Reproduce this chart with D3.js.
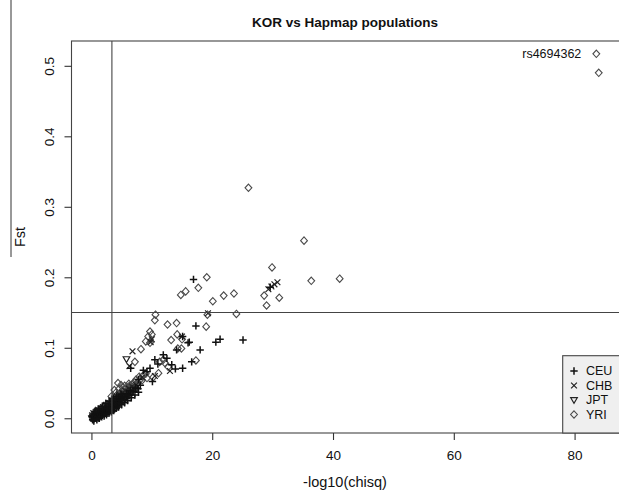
<!DOCTYPE html>
<html>
<head>
<meta charset="utf-8">
<script src="https://cdn.jsdelivr.net/npm/d3@7"></script>
<style>
  html, body { margin: 0; padding: 0; background: #fff; }
  svg { display: block; font-family: "Liberation Sans", Arial, sans-serif; }
</style>
</head>
<body>
<svg id="chart" width="619" height="497"></svg>
<script>
// ---- data ----
const title = "KOR vs Hapmap populations";
const xLabel = "-log10(chisq)";
const yLabel = "Fst";
const xTicks = [0, 20, 40, 60, 80];
const yTicks = [0.0, 0.1, 0.2, 0.3, 0.4, 0.5];
const legendLabels = ["CEU", "CHB", "JPT", "YRI"];
const xThreshold = 3.39;
const yThreshold = 0.15;
const labelledPoint = { name: "rs4694362", x: 83.6, y: 0.517 };

const ceu = [
  [0.1,0.002],[0.3,0.004],[0.5,0.001],[0.7,0.006],[0.9,0.005],[1.1,0.008],[1.3,0.006],[1.5,0.010],
  [1.7,0.009],[1.9,0.012],[2.1,0.011],[2.3,0.014],[2.5,0.013],[2.8,0.017],[3.0,0.016],[3.3,0.020],
  [3.6,0.019],[3.9,0.024],[4.2,0.023],[4.5,0.028],[4.8,0.027],[5.1,0.031],[5.4,0.030],[5.8,0.035],
  [6.1,0.034],[6.5,0.039],[6.9,0.038],[7.3,0.043],[7.7,0.042],[8.1,0.047],
  [0.2,-0.002],[0.6,0.000],[1.0,0.002],[1.4,0.003],[1.8,0.005],[2.2,0.007],[2.6,0.009],[3.0,0.011],
  [3.4,0.014],[3.8,0.016],[4.2,0.019],[4.6,0.022],[5.0,0.025],[5.4,0.027],[5.8,0.030],[6.2,0.032],
  [0.4,-0.004],[0.9,-0.002],[1.3,0.000],[1.7,0.002],[2.1,0.003],[2.5,0.005],[2.9,0.007],[3.3,0.009],
  [3.7,0.011],[4.1,0.014],[4.5,0.016],[5.0,0.019],[5.5,0.022],[6.0,0.025],[6.6,0.029],[7.2,0.033],
  [7.8,0.037],
  [0.6,0.010],[1.2,0.013],[1.8,0.017],[2.4,0.021],[3.0,0.024],[3.6,0.028],[4.2,0.031],[4.9,0.034],
  [16.9,0.197],[17.3,0.131],[15.1,0.116],[16.2,0.108],[20.6,0.108],[21.3,0.112],[25.1,0.111],
  [18.0,0.097],[14.1,0.097],[16.0,0.107],[11.9,0.090],[10.5,0.083],[13.3,0.076],[15.1,0.071],
  [16.6,0.080],[6.5,0.071],[8.6,0.068],[9.7,0.071],[10.1,0.052],[12.5,0.085],[29.6,0.186],
  [11.0,0.077],[9.2,0.066],[13.9,0.070],[7.8,0.055]
];
const chb = [
  [0.2,0.000],[0.4,0.003],[0.6,0.005],[0.8,0.003],[1.0,0.007],[1.2,0.004],[1.4,0.008],[1.6,0.007],
  [1.8,0.010],[2.0,0.009],[2.2,0.012],[2.4,0.011],[2.7,0.015],[2.9,0.013],[3.2,0.018],[3.5,0.017],
  [3.8,0.021],[4.1,0.020],[4.4,0.025],[4.7,0.024],[5.0,0.028],[5.3,0.027],[5.7,0.032],[6.0,0.031],
  [6.4,0.036],[6.8,0.035],[7.2,0.040],
  [0.3,0.007],[0.7,0.009],[1.1,0.012],[1.5,0.014],[1.9,0.016],[2.4,0.019],[2.8,0.022],[3.3,0.025],
  [3.7,0.028],[4.2,0.031],[4.6,0.034],[5.1,0.036],[5.6,0.039],[6.2,0.042],[6.7,0.045],[7.4,0.047],
  [0.1,0.004],[0.5,0.002],[0.9,0.010],[1.3,0.011],[1.7,0.012],[2.1,0.015],[2.6,0.017],[3.1,0.021],
  [3.6,0.023],[4.0,0.027],[4.5,0.029],[5.0,0.032],[5.5,0.034],[6.1,0.037],[6.6,0.040],[7.1,0.043],
  [7.7,0.045],
  [6.8,0.095],[29.3,0.183],[29.8,0.187],[30.3,0.190],[30.8,0.193],[6.3,0.074],[15.0,0.116],
  [10.5,0.060],[13.0,0.067],[19.3,0.149],[9.8,0.108],[10.0,0.112],[8.4,0.058]
];
const jpt = [
  [0.1,0.000],[0.3,0.002],[0.5,0.004],[0.7,0.002],[0.9,0.006],[1.1,0.005],[1.3,0.009],[1.5,0.007],
  [1.8,0.011],[2.0,0.010],[2.3,0.013],[2.6,0.012],[2.9,0.016],[3.2,0.015],[3.5,0.019],[3.8,0.018],
  [4.1,0.022],[4.5,0.021],[4.9,0.026],[5.3,0.025],
  [0.4,-0.001],[0.8,0.001],[1.2,0.001],[1.6,0.004],[2.1,0.006],[2.5,0.008],[3.0,0.010],[3.4,0.012],
  [3.9,0.014],[4.4,0.017],
  [5.8,0.084]
];
const yri = [
  [0.2,0.004],[0.5,0.007],[0.8,0.009],[1.1,0.011],[1.5,0.013],[1.9,0.015],[2.3,0.018],[2.7,0.020],
  [3.1,0.023],[3.5,0.026],[3.9,0.029],[4.3,0.032],[4.7,0.036],[5.1,0.038],[5.5,0.041],[5.9,0.044],
  [6.3,0.046],[6.7,0.048],[7.1,0.051],[7.6,0.050],[8.0,0.054],
  [3.8,0.040],[4.4,0.050],[4.9,0.047],[5.5,0.046],[6.2,0.049],
  [4.0,0.036],[4.6,0.042],[5.2,0.044],[5.8,0.038],[6.5,0.043],[7.0,0.046],[7.4,0.055],[7.9,0.059],
  [8.4,0.054],[3.3,0.031],
  [83.6,0.517],[84.0,0.490],[26.0,0.327],[35.2,0.252],[29.9,0.214],[36.4,0.195],[41.1,0.198],
  [19.1,0.200],[17.7,0.185],[14.8,0.175],[15.6,0.180],[20.1,0.166],[21.9,0.174],[23.6,0.177],
  [28.6,0.174],[29.0,0.160],[31.1,0.171],[10.6,0.147],[10.5,0.139],[19.2,0.147],[24.0,0.148],
  [12.6,0.133],[14.1,0.135],[19.0,0.130],[9.7,0.123],[10.0,0.119],[9.4,0.116],[9.0,0.109],
  [9.7,0.107],[13.2,0.111],[14.2,0.119],[14.3,0.099],[14.9,0.099],[8.2,0.098],[7.2,0.080],
  [17.3,0.082],[11.3,0.080],[12.2,0.078],[12.7,0.073],[8.6,0.061],[9.2,0.057],[10.2,0.058],
  [11.1,0.064],[9.0,0.063],[11.9,0.083],[15.0,0.112]
];

// ---- scales ----
const svg = d3.select("#chart");
const x = d3.scaleLinear().domain([-3.3, 87.9]).range([71.5, 622.3]);
const y = d3.scaleLinear().domain([-0.0209, 0.5352]).range([433, 41]);
const [x0, x1] = x.range();
const [y0, y1] = y.range();

const symbols = {
  CEU: { d: "M-3.7,0H3.7M0,-3.7V3.7", stroke: "#111", w: 1.5 },
  CHB: { d: "M-2.9,-2.9L2.9,2.9M-2.9,2.9L2.9,-2.9", stroke: "#222", w: 1.2 },
  JPT: { d: "M-3.3,-2.3L3.3,-2.3L0,3.4Z", stroke: "#222", w: 1.2 },
  YRI: { d: "M0,-3.7L3.4,0L0,3.7L-3.4,0Z", stroke: "#4a4a4a", w: 1.1 }
};
// drawn so that the dark crosses sit on top of the diamonds
const series = [["YRI", yri], ["JPT", jpt], ["CHB", chb], ["CEU", ceu]];

// stray line at left edge (seen in the picture)
svg.append("line").attr("x1", 11).attr("x2", 11).attr("y1", 0).attr("y2", 257)
  .attr("stroke", "#333").attr("stroke-width", 1);

// title
svg.append("text").attr("x", 345).attr("y", 22).attr("text-anchor", "middle")
  .attr("dominant-baseline", "central").attr("font-weight", "bold").attr("font-size", 13.5)
  .attr("fill", "#111").text(title);

// points
const gPts = svg.append("g");
series.forEach(([name, data]) => {
  const s = symbols[name];
  gPts.selectAll(null).data(data).enter().append("path")
    .attr("transform", d => `translate(${x(d[0])},${y(d[1])})`)
    .attr("d", s.d).attr("fill", "none").attr("stroke", s.stroke).attr("stroke-width", s.w);
});

// threshold lines
svg.append("line").attr("x1", x(xThreshold)).attr("x2", x(xThreshold)).attr("y1", y1).attr("y2", y0)
  .attr("stroke", "#444").attr("stroke-width", 1.1);
svg.append("line").attr("x1", x0).attr("x2", x1).attr("y1", y(yThreshold)).attr("y2", y(yThreshold))
  .attr("stroke", "#444").attr("stroke-width", 1.1);

// box
svg.append("rect").attr("x", x0).attr("y", y1).attr("width", x1 - x0).attr("height", y0 - y1)
  .attr("fill", "none").attr("stroke", "#444").attr("stroke-width", 1.1);

// axes
const xAxis = svg.append("g").attr("transform", `translate(0,${y0})`)
  .call(d3.axisBottom(x).tickValues(xTicks).tickSize(7).tickPadding(10).tickFormat(d3.format("d")));
xAxis.select(".domain").remove();
xAxis.selectAll("text").attr("font-size", 13.5).attr("fill", "#111").attr("font-family", "Liberation Sans, Arial, sans-serif");
xAxis.selectAll("line").attr("stroke", "#333").attr("stroke-width", 1.1);

const yAxis = svg.append("g").attr("transform", `translate(${x0},0)`)
  .call(d3.axisLeft(y).tickValues(yTicks).tickSize(7).tickFormat(d3.format(".1f")));
yAxis.select(".domain").remove();
yAxis.selectAll("line").attr("stroke", "#333").attr("stroke-width", 1.1);
yAxis.selectAll("text")
  .attr("font-size", 13.5).attr("fill", "#111").attr("font-family", "Liberation Sans, Arial, sans-serif")
  .attr("x", null).attr("dy", null)
  .attr("text-anchor", "middle").attr("dominant-baseline", "central")
  .attr("transform", "translate(-22,0) rotate(-90)");

// axis labels
svg.append("text").attr("x", 345).attr("y", 482).attr("text-anchor", "middle")
  .attr("dominant-baseline", "central").attr("font-size", 14.5).attr("fill", "#111").text(xLabel);
svg.append("text").attr("transform", `translate(20,${(y0 + y1) / 2}) rotate(-90)`)
  .attr("text-anchor", "middle").attr("dominant-baseline", "central")
  .attr("font-size", 14.5).attr("fill", "#111").text(yLabel);

// labelled point
svg.append("text").attr("x", x(labelledPoint.x) - 15).attr("y", y(labelledPoint.y))
  .attr("text-anchor", "end").attr("dominant-baseline", "central")
  .attr("font-size", 12.5).attr("fill", "#111").text(labelledPoint.name);

// legend
const lg = svg.append("g");
const lgTop = 355.7;
lg.append("rect").attr("x", 562.7).attr("y", lgTop).attr("width", x1 - 562.7).attr("height", y0 - lgTop)
  .attr("fill", "#efefef").attr("stroke", "#444").attr("stroke-width", 1.1);
legendLabels.forEach((name, i) => {
  const cy = 371 + i * 14.5;
  const s = symbols[name];
  lg.append("path").attr("transform", `translate(574,${cy})`).attr("d", s.d)
    .attr("fill", "none").attr("stroke", s.stroke).attr("stroke-width", s.w);
  lg.append("text").attr("x", 586).attr("y", cy).attr("dominant-baseline", "central")
    .attr("font-size", 12.5).attr("fill", "#111").text(name);
});
</script>
</body>
</html>
